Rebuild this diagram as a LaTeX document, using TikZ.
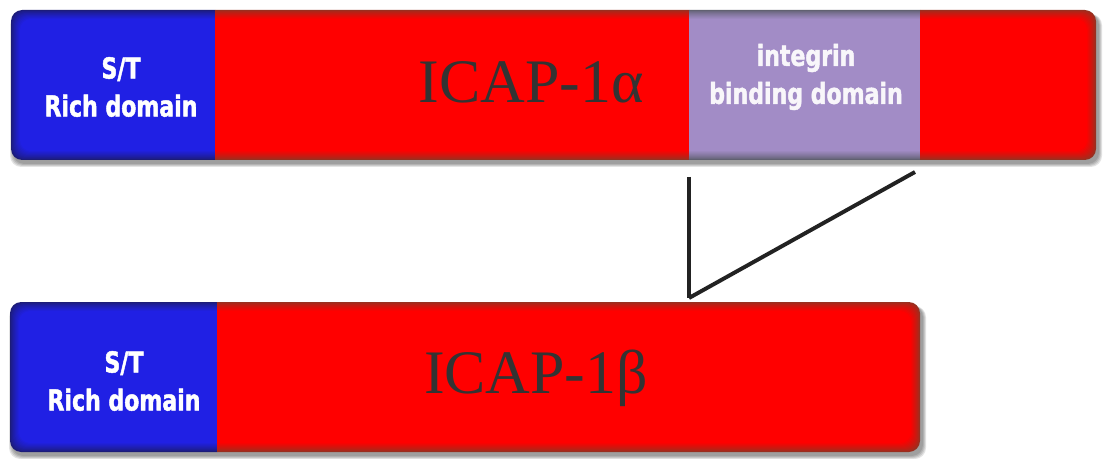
\documentclass[tikz,border=0pt]{standalone}
\usepackage{fontspec}
\setmainfont{Liberation Serif}
\newfontfamily\labfont{DejaVu Sans Condensed Bold}[FakeStretch=0.85,FakeBold=1.6]
\definecolor{bluec}{HTML}{2020E4}
\definecolor{bluer}{HTML}{1C1C78}
\definecolor{redc}{HTML}{FF0000}
\definecolor{redr}{HTML}{983020}
\definecolor{purc}{HTML}{A28CC6}
\definecolor{purr}{HTML}{606070}
\definecolor{txtgray}{HTML}{333333}
\definecolor{connc}{HTML}{222222}
\tikzset{
  lab/.style={align=center, text=white, inner sep=0pt,
    font=\labfont\fontsize{20.5}{27}\selectfont},
  icap/.style={text=txtgray, inner sep=0pt, anchor=base,
    font=\fontsize{44}{50}\selectfont},
  conn/.style={draw=connc, line width=2.8pt, line cap=butt},
  shd/.style={fill=black, opacity=0.11, rounded corners=8pt}
}
\begin{document}
\begin{tikzpicture}[x=0.025cm, y=-0.025cm]
\useasboundingbox (0,0) rectangle (1105,459);
\fill[white] (0,0) rectangle (1105,459);
% shadows
\foreach \j in {0,...,3} {
  \fill[shd] (13-\j,14) rectangle (1099+\j,164+\j);
  \fill[shd] (12-\j,306) rectangle (923+\j,456+\j);
}
% top bar
\foreach \a/\b/\c/\r in {11/215/bluec/bluer, 215/689/redc/redr, 689/920/purc/purr, 920/1096/redc/redr} {
  \begin{scope}
    \clip (\a,0) rectangle (\b,200);
    \foreach \i in {0,...,9} {
      \pgfmathsetmacro\m{100*(\i/9)^0.8}
      \fill[\c!\m!\r, rounded corners=8pt] (11+\i,10+\i) rectangle (1096-\i,160-\i);
    }
  \end{scope}
}
% bottom bar
\foreach \a/\b/\c/\r in {10/217/bluec/bluer, 217/920/redc/redr} {
  \begin{scope}
    \clip (\a,290) rectangle (\b,459);
    \foreach \i in {0,...,9} {
      \pgfmathsetmacro\m{100*(\i/9)^0.8}
      \fill[\c!\m!\r, rounded corners=8pt] (10+\i,302+\i) rectangle (920-\i,452-\i);
    }
  \end{scope}
}
% labels
\node[lab] (st1) at (121,87) {S/T\\Rich domain};
\node[lab] (st2) at (124,381) {S/T\\Rich domain};
\node[lab, text=white!92!purc] (intg) at (806,77) {integrin\\binding domain};
\node[icap] (alpha) at (531,103) {ICAP-1α};
\node[icap] (beta) at (536,393) {ICAP-1β};
% connectors
\coordinate (p1) at (689,177);
\coordinate (p2) at (915,172);
\coordinate (q) at (689,298);
\draw[conn] (p1) -- (q);
\draw[conn] (p2) -- (q);
\end{tikzpicture}
\end{document}
